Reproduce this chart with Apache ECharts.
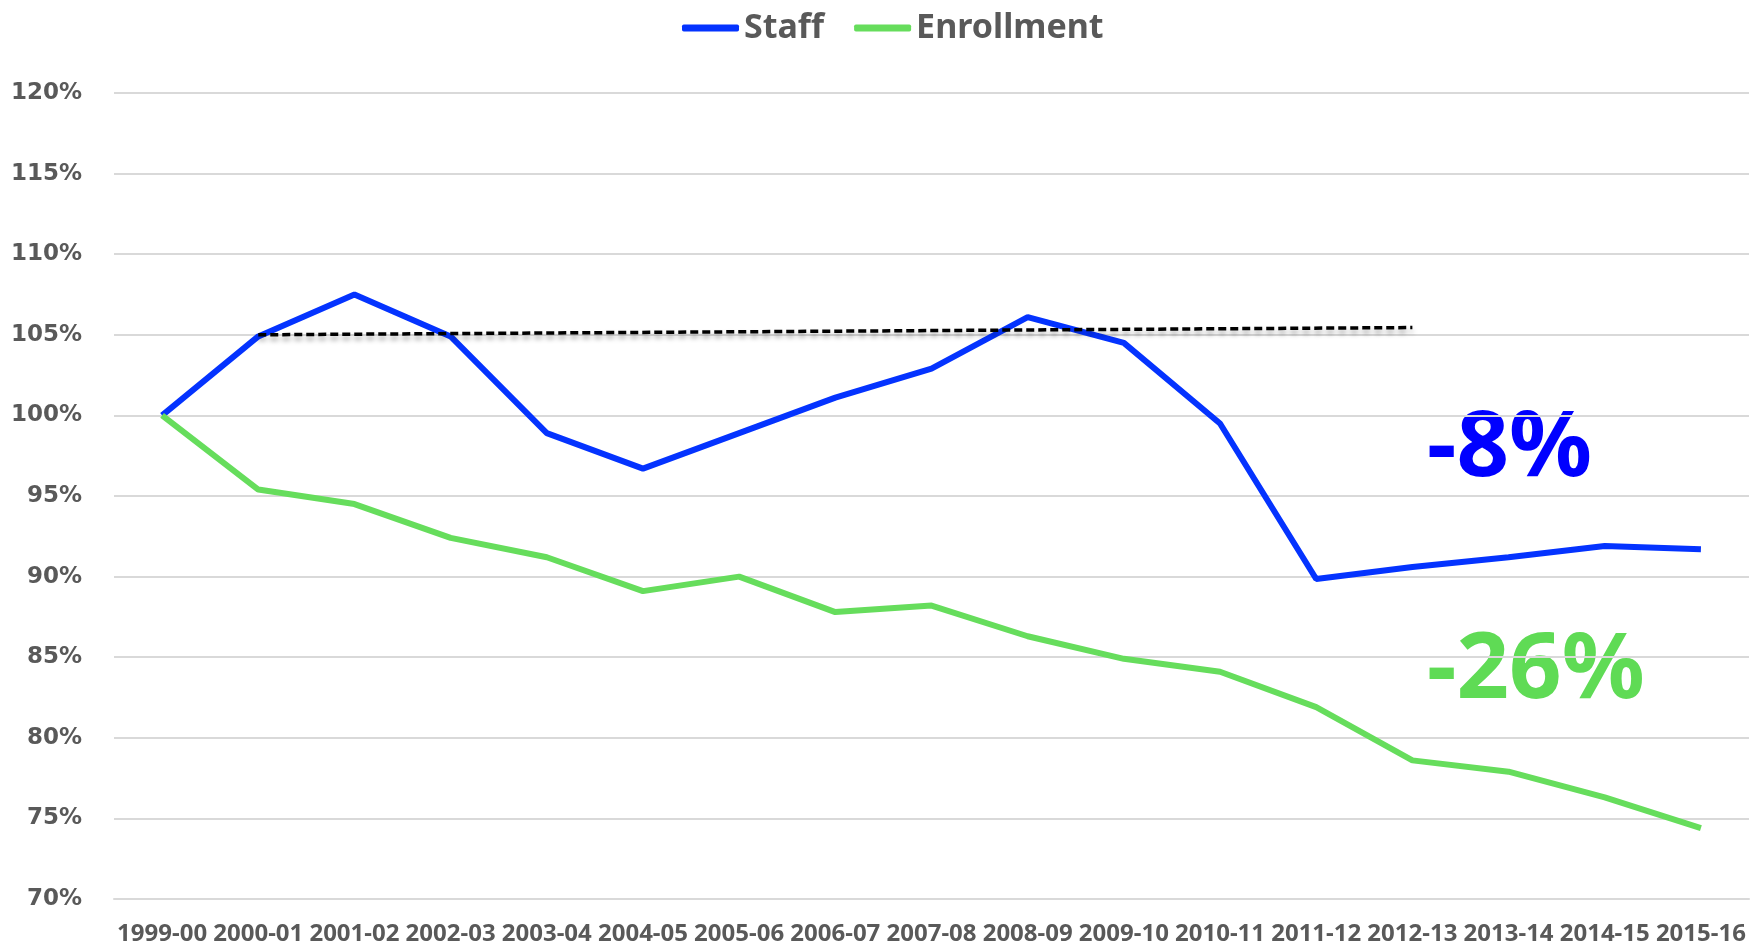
<!DOCTYPE html>
<html>
<head>
<meta charset="utf-8">
<title>Staff vs Enrollment</title>
<script src="https://cdn.jsdelivr.net/npm/echarts@6/dist/echarts.min.js"></script>
<style>
  html, body { margin: 0; padding: 0; background: #fff; }
  #chart { width: 1759px; height: 946px; }
</style>
</head>
<body>
<div id="chart"></div>
<script>
  // school years (x axis)
  const years = ['1999-00', '2000-01', '2001-02', '2002-03', '2003-04', '2004-05', '2005-06', '2006-07',
    '2007-08', '2008-09', '2009-10', '2010-11', '2011-12', '2012-13', '2013-14', '2014-15', '2015-16']

  // index, 1999-00 = 100%
  const staff = [100, 104.9, 107.5, 104.9, 98.9, 96.7, 98.9, 101.1, 102.9, 106.1, 104.5, 99.5, 89.85, 90.6, 91.2, 91.9, 91.7]
  const enrollment = [100, 95.4, 94.5, 92.4, 91.2, 89.1, 90.0, 87.8, 88.2, 86.3, 84.9, 84.1, 81.9, 78.6, 77.9, 76.3, 74.4]

  // dashed reference line (category index, value)
  const trend = [[1, 105.0], [13, 105.45]]

  const staffChange = '-8%'
  const enrollChange = '-26%'

  const gray = '#595959'
  const blue = '#0433FF'
  const green = '#66DD5C'

  const chart = echarts.init(document.getElementById('chart'))
  chart.setOption({
    animation: false,
    backgroundColor: '#fff',
    grid: {
      left: 114,
      right: 10,
      top: 93,
      bottom: 47
    },
    legend: {
      data: ['Staff', 'Enrollment'],
      left: 677,
      top: 6,
      icon: 'roundRect',
      itemWidth: 57,
      itemHeight: 7,
      itemGap: 30,
      textStyle: {
        fontFamily: 'Noto Sans',
        fontWeight: 'bold',
        fontSize: 34,
        color: gray
      }
    },
    xAxis: {
      type: 'category',
      data: years,
      boundaryGap: true,
      axisLine: { lineStyle: { color: '#D9D9D9', width: 2 } },
      axisTick: { show: false },
      axisLabel: {
        interval: 0,
        margin: 23,
        fontFamily: 'Noto Sans',
        fontWeight: 'bold',
        fontSize: 24,
        color: gray
      }
    },
    yAxis: {
      type: 'value',
      min: 70,
      max: 120,
      interval: 5,
      axisLine: { show: false },
      axisTick: { show: false },
      splitLine: { lineStyle: { color: '#D9D9D9', width: 2 } },
      axisLabel: {
        margin: 32,
        formatter: '{value}%',
        fontFamily: 'DejaVu Sans',
        fontWeight: 'bold',
        fontSize: 23,
        color: gray
      }
    },
    series: [
      {
        name: 'Staff',
        type: 'line',
        data: staff,
        symbol: 'none',
        lineStyle: { color: blue, width: 6 },
        itemStyle: { color: blue }
      },
      {
        name: 'Enrollment',
        type: 'line',
        data: enrollment,
        symbol: 'none',
        lineStyle: { color: green, width: 6 },
        itemStyle: { color: green }
      },
      {
        name: 'trend',
        type: 'line',
        data: trend,
        symbol: 'none',
        silent: true,
        lineStyle: {
          color: '#000',
          width: 3.5,
          type: [8, 4],
          shadowColor: 'rgba(0,0,0,0.35)',
          shadowBlur: 5,
          shadowOffsetY: 4
        }
      }
    ],
    graphic: [
      {
        type: 'text',
        left: 1427,
        top: 404,
        style: {
          text: staffChange,
          fill: '#0000FF',
          font: 'bold 92px "Noto Sans"'
        }
      },
      {
        type: 'text',
        left: 1427,
        top: 626,
        style: {
          text: enrollChange,
          fill: '#5FDB55',
          font: 'bold 92px "Noto Sans"'
        }
      }
    ]
  })
</script>
</body>
</html>
